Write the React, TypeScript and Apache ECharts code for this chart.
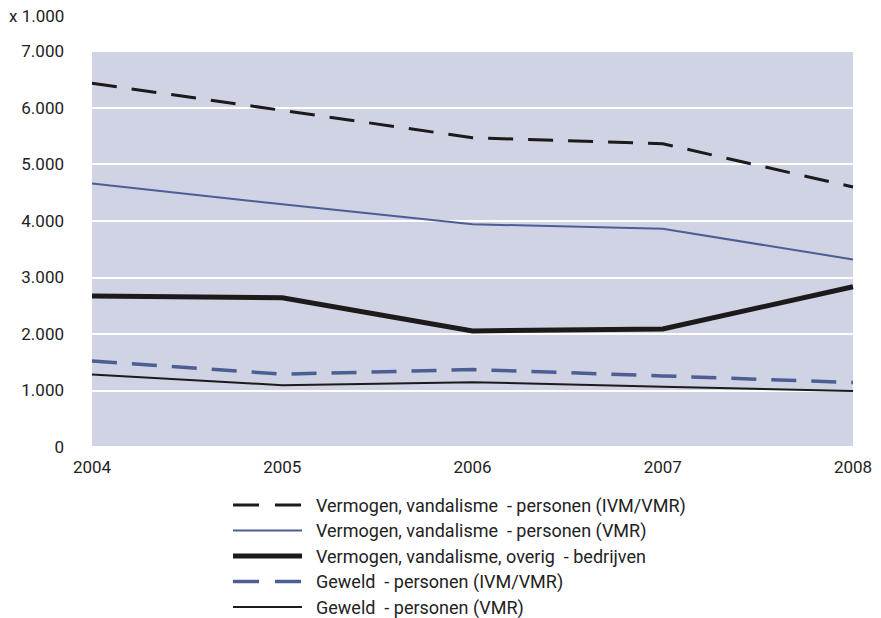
import React, { useEffect, useRef } from "react";
import * as echarts from "echarts";

const years = ["2004", "2005", "2006", "2007", "2008"];
const vermogenIvm = [6430, 5950, 5467, 5361, 4596];
const vermogenVmr = [4656, 4291, 3938, 3856, 3316];
const vermogenBedrijven = [2668, 2639, 2051, 2086, 2833];
const geweldIvm = [1522, 1287, 1369, 1257, 1140];
const geweldVmr = [1281, 1093, 1146, 1063, 988];

const seriesNames = [
  "Vermogen, vandalisme  - personen (IVM/VMR)",
  "Vermogen, vandalisme  - personen (VMR)",
  "Vermogen, vandalisme, overig  - bedrijven",
  "Geweld  - personen (IVM/VMR)",
  "Geweld  - personen (VMR)",
];

const BLACK = "#1c1a1b";
const BLUE = "#4c5e93";
const TEXT = "#222222";
const FONT = "Roboto";

type Style = { color: string; width: number; dashed: boolean };
const styles: Style[] = [
  { color: BLACK, width: 3, dashed: true },
  { color: BLUE, width: 2, dashed: false },
  { color: BLACK, width: 5, dashed: false },
  { color: BLUE, width: 3.5, dashed: true },
  { color: BLACK, width: 2, dashed: false },
];
const seriesData = [vermogenIvm, vermogenVmr, vermogenBedrijven, geweldIvm, geweldVmr];

export default function App() {
  const ref = useRef<HTMLDivElement>(null);
  useEffect(() => {
    document.body.style.margin = "0";
    const chart = echarts.init(ref.current!, null, { renderer: "svg" });

    const legendTop = 505;
    const legendStep = 25.5;
    const legendGraphics: any[] = [];
    seriesNames.forEach((name, i) => {
      const s = styles[i];
      const y = legendTop + i * legendStep;
      legendGraphics.push({
        type: "line",
        silent: true,
        shape: { x1: 233, y1: y, x2: 302, y2: y },
        style: {
          stroke: s.color,
          lineWidth: s.width,
          lineDash: s.dashed ? [26, 16] : null,
          lineCap: "butt",
        },
      });
      legendGraphics.push({
        type: "text",
        silent: true,
        x: 316,
        y: y,
        style: {
          text: name,
          fontFamily: FONT,
          fontSize: 18,
          lineHeight: 18,
          fill: TEXT,
          verticalAlign: "middle",
          align: "left",
        },
      });
    });

    chart.setOption({
      animation: false,
      title: {
        text: "x 1.000",
        left: 9,
        top: 7,
        padding: 0,
        textStyle: { fontFamily: FONT, fontSize: 17, fontWeight: "normal", color: TEXT },
      },
      grid: {
        left: 92,
        right: 28,
        top: 51,
        bottom: 171,
        show: true,
        backgroundColor: "#cfd3e3",
        borderWidth: 0,
      },
      graphic: legendGraphics,
      xAxis: {
        type: "category",
        data: years,
        boundaryGap: false,
        axisLine: { show: false },
        axisTick: { show: false },
        axisLabel: { margin: 11, fontFamily: FONT, fontSize: 17, color: TEXT },
        splitLine: { show: false },
      },
      yAxis: {
        type: "value",
        min: 0,
        max: 7000,
        interval: 1000,
        axisLine: { show: false },
        axisTick: { show: false },
        axisLabel: {
          margin: 28,
          fontFamily: FONT,
          fontSize: 17,
          color: TEXT,
          formatter: (v: number) => (v === 0 ? "0" : (v / 1000).toFixed(0) + ".000"),
        },
        splitLine: { show: true, lineStyle: { color: "#ffffff", width: 2 } },
      },
      series: seriesNames.map((name, i) => ({
        name,
        type: "line",
        data: seriesData[i],
        symbol: "none",
        color: styles[i].color,
        lineStyle: {
          color: styles[i].color,
          width: styles[i].width,
          type: styles[i].dashed ? [25, 15] : "solid",
          cap: "butt",
          join: "miter",
        },
      })),
    });
    return () => chart.dispose();
  }, []);
  return <div ref={ref} style={{ width: 881, height: 618 }} />;
}
